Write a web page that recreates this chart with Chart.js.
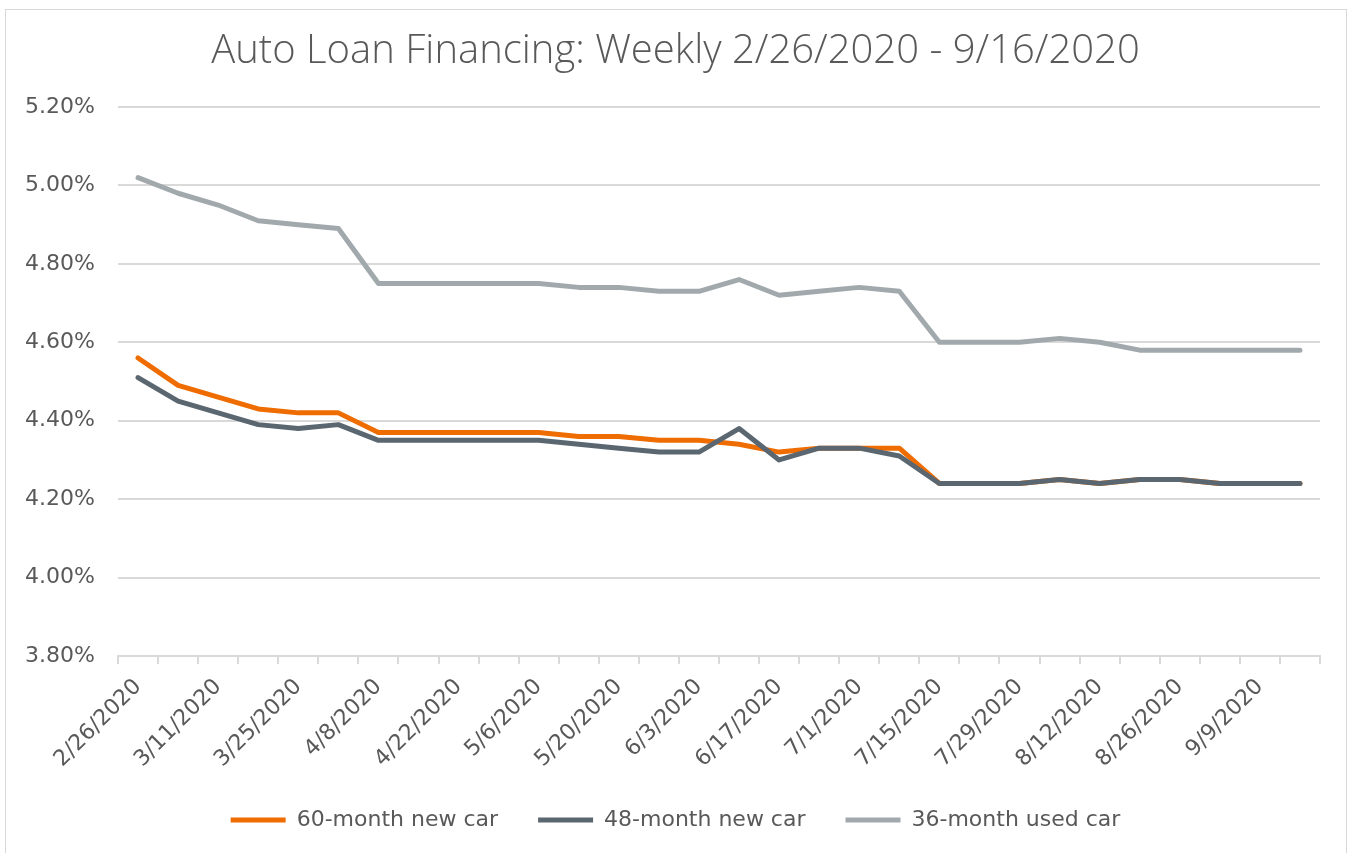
<!DOCTYPE html>
<html>
<head>
<meta charset="utf-8">
<script src="https://cdn.jsdelivr.net/npm/chart.js@4.4.0/dist/chart.umd.min.js"></script>
<style>
  html, body { margin: 0; padding: 0; background: #ffffff; }
  body { width: 1351px; height: 853px; position: relative; overflow: hidden; }
  #frame { position: absolute; left: 5px; top: 9px; width: 1342px; height: 860px; border: 1px solid #d9d9d9; box-sizing: border-box; }
  #wrap { position: absolute; left: 0; top: 0; width: 1351px; height: 853px; }
</style>
</head>
<body>
<div id="frame"></div>
<div id="wrap"><canvas id="c" width="1351" height="853"></canvas></div>
<script>
const categories = [
  "2/26/2020","3/4/2020","3/11/2020","3/18/2020","3/25/2020","4/1/2020","4/8/2020","4/15/2020",
  "4/22/2020","4/29/2020","5/6/2020","5/13/2020","5/20/2020","5/27/2020","6/3/2020","6/10/2020",
  "6/17/2020","6/24/2020","7/1/2020","7/8/2020","7/15/2020","7/22/2020","7/29/2020","8/5/2020",
  "8/12/2020","8/19/2020","8/26/2020","9/2/2020","9/9/2020","9/16/2020"
];
const newCar60 = [4.56,4.49,4.46,4.43,4.42,4.42,4.37,4.37,4.37,4.37,4.37,4.36,4.36,4.35,4.35,4.34,4.32,4.33,4.33,4.33,4.24,4.24,4.24,4.25,4.24,4.25,4.25,4.24,4.24,4.24];
const newCar48 = [4.51,4.45,4.42,4.39,4.38,4.39,4.35,4.35,4.35,4.35,4.35,4.34,4.33,4.32,4.32,4.38,4.30,4.33,4.33,4.31,4.24,4.24,4.24,4.25,4.24,4.25,4.25,4.24,4.24,4.24];
const usedCar36 = [5.02,4.98,4.95,4.91,4.90,4.89,4.75,4.75,4.75,4.75,4.75,4.74,4.74,4.73,4.73,4.76,4.72,4.73,4.74,4.73,4.60,4.60,4.60,4.61,4.60,4.58,4.58,4.58,4.58,4.58];
const seriesNames = ["60-month new car","48-month new car","36-month used car"];
const yTicks = { min: 3.8, max: 5.2, step: 0.2 };
const titleText = "Auto Loan Financing: Weekly 2/26/2020 - 9/16/2020";

const TITLE_FONT = "'Open Sans', sans-serif";
const FONT = "'DejaVu Sans', sans-serif";
const TXT = "#595959";
const GRID = "#d9d9d9";

function ds(label, data, color, order) {
  return {
    label, data, borderColor: color, backgroundColor: color,
    borderWidth: 5, pointRadius: 0, pointHoverRadius: 0, tension: 0,
    borderJoinStyle: 'round', borderCapStyle: 'round', fill: false, order
  };
}

new Chart(document.getElementById('c'), {
  type: 'line',
  data: {
    labels: categories,
    datasets: [
      ds(seriesNames[0], newCar60, '#EE6C00', 2),
      ds(seriesNames[1], newCar48, '#5B6770', 1),
      ds(seriesNames[2], usedCar36, '#A2A9AD', 3)
    ]
  },
  options: {
    responsive: false,
    animation: false,
    devicePixelRatio: 1,
    layout: { padding: { left: 0, right: 0, top: 0, bottom: 12 } },
    plugins: {
      title: {
        display: true, text: titleText, color: TXT,
        font: { family: TITLE_FONT, size: 40, weight: '300', lineHeight: 1.2 },
        padding: { top: 28, bottom: 31 }
      },
      legend: {
        position: 'bottom',
        labels: {
          color: TXT, font: { family: FONT, size: 22 },
          usePointStyle: true, pointStyle: 'line', pointStyleWidth: 55, boxHeight: 5,
          padding: 40,
          sort: (a, b) => a.datasetIndex - b.datasetIndex
        }
      },
      tooltip: { enabled: false }
    },
    scales: {
      x: {
        offset: true,
        grid: { display: true, drawOnChartArea: false, drawTicks: true, tickLength: 8, offset: true, color: GRID, lineWidth: 2 },
        border: { display: true, color: GRID, width: 2 },
        ticks: {
          autoSkip: false, maxRotation: 45, minRotation: 45, padding: 10,
          color: TXT, font: { family: FONT, size: 22 },
          callback: function(v, i) { return i % 2 === 0 ? this.getLabelForValue(v) : ''; }
        },
        afterFit: (s) => { s.height = 113; }
      },
      y: {
        min: yTicks.min, max: yTicks.max,
        grid: { color: GRID, lineWidth: 2, drawTicks: false },
        border: { display: false },
        ticks: {
          stepSize: yTicks.step, padding: 23, color: TXT,
          font: { family: FONT, size: 22 },
          callback: (v) => Number(v).toFixed(2) + '%'
        },
        afterFit: (s) => { s.width = 118; }
      },
      ySpacer: {
        type: 'linear', position: 'right', display: true,
        min: yTicks.min, max: yTicks.max,
        grid: { display: false, drawTicks: false },
        border: { display: false },
        ticks: { display: false },
        afterFit: (s) => { s.width = 31; }
      }
    }
  }
});
</script>
</body>
</html>
